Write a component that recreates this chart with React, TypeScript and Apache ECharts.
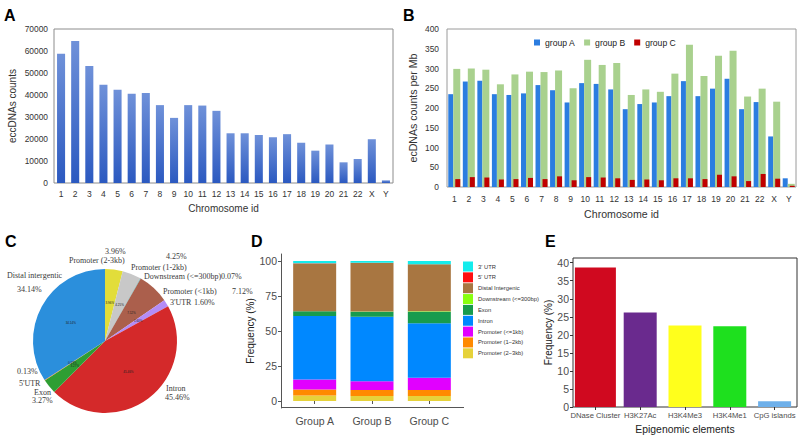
import React, { useEffect, useRef } from 'react';
import * as echarts from 'echarts';

// ---------- Data ----------
const chromosomes = ['1','2','3','4','5','6','7','8','9','10','11','12','13','14','15','16','17','18','19','20','21','22','X','Y'];
const eccCounts = [58700, 64500, 53200, 44700, 42400, 40600, 40900, 35400, 29600, 35400, 35200, 32800, 22600, 22600, 21800, 20800, 22200, 18300, 14700, 17500, 9400, 10900, 19900, 1200];

const groupAPerMb = [235, 267, 269, 235, 233, 237, 258, 245, 214, 263, 261, 247, 197, 210, 214, 230, 268, 230, 249, 274, 197, 215, 128, 22];
const groupBPerMb = [299, 300, 297, 260, 285, 292, 291, 295, 250, 322, 309, 314, 233, 247, 241, 287, 360, 281, 332, 345, 229, 249, 216, 8];
const groupCPerMb = [20, 25, 24, 19, 20, 23, 20, 27, 17, 25, 24, 22, 18, 19, 17, 22, 22, 20, 31, 27, 15, 33, 21, 3];
const groupNames = ['group A', 'group B', 'group C'];

const pieNames = ['Promoter (2-3kb)', 'Promoter (1-2kb)', 'Downstream (<=300bp)', 'Promoter (<1kb)', "3'UTR", 'Intron', 'Exon', "5'UTR", 'Distal intergentic'];
const piePercents = [3.96, 4.25, 0.07, 7.12, 1.60, 45.46, 3.27, 0.13, 34.14];

const dGroups = ['Group A', 'Group B', 'Group C'];
// stacking order bottom -> top
const dFeatures = ['Promoter (2\u22123kb)', 'Promoter (1\u22122kb)', 'Promoter (<=1kb)', 'Intron', 'Exon', 'Downstream (<=300bp)', 'Distal Intergenic', "5' UTR", "3' UTR"];
const dValues = [
  [3.96, 3.6, 3.6],
  [4.25, 4.3, 4.3],
  [7.12, 6.2, 8.7],
  [45.46, 46.1, 38.9],
  [3.27, 3.6, 8.3],
  [0.07, 0.08, 0.3],
  [34.14, 34.8, 33.5],
  [0.13, 0.12, 0.15],
  [1.60, 1.2, 2.25],
];
const dTicks = [0, 25, 50, 75, 100];

const eElements = ['DNase Cluster', 'H3K27Ac', 'H3K4Me3', 'H3K4Me1', 'CpG islands'];
const eFreq = [38.7, 26.2, 22.6, 22.4, 1.6];
const eTicks = [0, 5, 10, 15, 20, 25, 30, 35, 40];

// ---------- Styles ----------
const SANS = "'Liberation Sans', Arial, sans-serif";
const SERIF = "'Liberation Serif', 'Times New Roman', serif";
const groupColors = ['#2b7de0', '#a9d18e', '#c00000'];
const pieColors = ['#e2dd3a', '#c8c8c8', '#1fb5b5', '#ab5f4c', '#b48cf6', '#d4292a', '#2e9e33', '#ff7f0e', '#2b8fdc'];
const dColors = ['#e6d23a', '#ff8a00', '#e100ff', '#0088ff', '#179b4e', '#88ff10', '#a87641', '#ff1010', '#14ecec'];
const eColors = ['#d0091f', '#6a2a8e', '#ffff1c', '#1ee01e', '#6eb0ea'];

// pie label layout: [nameX, nameY, pctX, pctY]
const pieLabelLayout = [
  [69, 260, 105, 251],
  [131, 267, 166, 256],
  [144, 276, 221, 276],
  [163, 291, 232, 291],
  [170, 302, 194, 302],
  [166, 388, 165, 397],
  [34, 392, 32, 400],
  [19, 383, 17, 371],
  [7, 275, 17, 289],
];

export default function App() {
  const ref = useRef<HTMLDivElement>(null);
  useEffect(() => {
    if (!ref.current) return;
    const chart = echarts.init(ref.current, null, { renderer: 'svg' });

    const panelLetters = [
      { t: 'A', x: 4, y: 15.5 },
      { t: 'B', x: 403, y: 15.5 },
      { t: 'C', x: 5, y: 241.5 },
      { t: 'D', x: 251, y: 241.5 },
      { t: 'E', x: 545, y: 241.5 },
    ].map((p) => ({
      type: 'text', x: p.x, y: p.y,
      style: { text: p.t, font: `bold 16px ${SANS}`, fill: '#000', verticalAlign: 'middle' },
    }));

    const pieTexts: any[] = [];
    pieNames.forEach((n, i) => {
      const [nx, ny, px, py] = pieLabelLayout[i];
      pieTexts.push({ type: 'text', x: nx, y: ny, style: { text: n, font: `8px ${SERIF}`, fill: '#3a3a3a', verticalAlign: 'middle' } });
      pieTexts.push({ type: 'text', x: px, y: py, style: { text: piePercents[i].toFixed(2) + '%', font: `8px ${SERIF}`, fill: '#3a3a3a', verticalAlign: 'middle' } });
    });

    // x axis line of panel D spans the full ggplot panel (with expansion)
    const dAxisLine = {
      type: 'line', shape: { x1: 281, y1: 407.5, x2: 464, y2: 407.5 },
      style: { stroke: '#555', lineWidth: 1 },
    };

    const gradA = new echarts.graphic.LinearGradient(0, 0, 0, 1, [
      { offset: 0, color: '#6f91d9' },
      { offset: 1, color: '#2b59c0' },
    ]);

    const dSeries = dFeatures.map((f, i) => ({
      name: f,
      type: 'bar',
      stack: 'd',
      xAxisIndex: 3,
      yAxisIndex: 2,
      barWidth: 43,
      itemStyle: { color: dColors[i] },
      data: dValues[i],
    }));

    const option: any = {
      animation: false,
      textStyle: { fontFamily: SANS },
      grid: [
        { left: 54, top: 29, width: 339, height: 154, show: true, borderColor: '#8c8c8c', borderWidth: 1 },
        { left: 447, top: 29, width: 349, height: 158, show: true, borderColor: '#9a9a9a', borderWidth: 1 },
        { left: 286, top: 254, width: 172, height: 154 },
        { left: 573, top: 258, width: 224, height: 149, show: true, borderColor: '#333', borderWidth: 1 },
      ],
      legend: [
        {
          data: groupNames, left: 529, top: 33, itemWidth: 6, itemHeight: 6, itemGap: 9, icon: 'rect',
          textStyle: { fontSize: 8.6, color: '#222', fontFamily: SANS },
        },
        {
          data: dFeatures.slice().reverse(), orient: 'vertical', left: 458, top: 256.5,
          itemWidth: 10, itemHeight: 10, itemGap: 0.85, icon: 'rect',
          textStyle: { fontSize: 5.8, color: '#333', fontFamily: SANS },
        },
      ],
      xAxis: [
        {
          gridIndex: 0, type: 'category', data: chromosomes,
          axisLine: { show: false }, axisTick: { show: false },
          axisLabel: { fontSize: 8.5, color: '#333', margin: 6, interval: 0 },
          name: 'Chromosome id', nameLocation: 'middle', nameGap: 20,
          nameTextStyle: { fontSize: 10, color: '#333' },
        },
        {
          gridIndex: 1, type: 'category', data: chromosomes,
          axisLine: { show: false }, axisTick: { show: false },
          axisLabel: { fontSize: 8.5, color: '#333', margin: 7, interval: 0 },
          name: 'Chromosome id', nameLocation: 'middle', nameGap: 21,
          nameTextStyle: { fontSize: 10.6, color: '#333' },
        },
        { gridIndex: 1, type: 'category', data: chromosomes, show: false },
        {
          gridIndex: 2, type: 'category', data: dGroups,
          axisLine: { show: false },
          axisTick: { show: true, length: 3, alignWithLabel: true, lineStyle: { color: '#555' } },
          axisLabel: { fontSize: 10.5, color: '#4d4d4d', margin: 7, interval: 0 },
        },
        {
          gridIndex: 3, type: 'category', data: eElements,
          axisLine: { show: false },
          axisTick: { show: true, alignWithLabel: true, length: 3, lineStyle: { color: '#333' } },
          axisLabel: { fontSize: 7.7, color: '#4d4d4d', margin: 4, interval: 0 },
          name: 'Epigenomic elements', nameLocation: 'middle', nameGap: 17,
          nameTextStyle: { fontSize: 10.4, color: '#222' },
        },
        { gridIndex: 3, type: 'category', data: eElements, show: false },
      ],
      yAxis: [
        {
          gridIndex: 0, type: 'value', min: 0, max: 70000, interval: 10000,
          splitLine: { show: false }, axisLine: { show: false }, axisTick: { show: false },
          axisLabel: { fontSize: 8.4, color: '#333', margin: 6, formatter: (v: number) => String(v) },
          name: 'eccDNAs counts', nameLocation: 'middle', nameGap: 37,
          nameTextStyle: { fontSize: 10, color: '#333' },
        },
        {
          gridIndex: 1, type: 'value', min: 0, max: 400, interval: 50,
          splitLine: { show: false }, axisLine: { show: false }, axisTick: { show: false },
          axisLabel: { fontSize: 8.4, color: '#333', margin: 8 },
          name: 'ecDNAs counts per Mb', nameLocation: 'middle', nameGap: 29,
          nameTextStyle: { fontSize: 10.6, color: '#333' },
        },
        {
          gridIndex: 2, type: 'value', min: -5, max: 105, offset: 5,
          splitLine: { show: false },
          axisLine: { show: true, lineStyle: { color: '#555', width: 1 } },
          axisTick: { show: true, length: 3, customValues: dTicks, lineStyle: { color: '#555' } },
          axisLabel: { customValues: dTicks, fontSize: 10.5, color: '#4d4d4d', margin: 4 },
          name: 'Frequency (%)', nameLocation: 'middle', nameGap: 21,
          nameTextStyle: { fontSize: 10, color: '#222' },
        },
        {
          gridIndex: 3, type: 'value', min: 0, max: 41.3,
          splitLine: { show: false }, axisLine: { show: false },
          axisTick: { show: true, length: 3, customValues: eTicks, lineStyle: { color: '#333' } },
          axisLabel: { customValues: eTicks, fontSize: 10.5, color: '#4d4d4d', margin: 4 },
          name: 'Frequency (%)', nameLocation: 'middle', nameGap: 18,
          nameTextStyle: { fontSize: 10, color: '#222' },
        },
      ],
      series: [
        {
          name: 'eccDNA counts', type: 'bar', xAxisIndex: 0, yAxisIndex: 0, barWidth: '57%',
          itemStyle: { color: gradA }, data: eccCounts,
        },
        {
          name: groupNames[0], type: 'bar', xAxisIndex: 1, yAxisIndex: 1, barWidth: 5, barGap: 0,
          itemStyle: { color: groupColors[0] }, data: groupAPerMb,
        },
        {
          name: groupNames[1], type: 'bar', xAxisIndex: 1, yAxisIndex: 1, barWidth: 7, barGap: 0,
          itemStyle: { color: groupColors[1] }, data: groupBPerMb,
        },
        {
          name: '_pad', type: 'bar', xAxisIndex: 2, yAxisIndex: 1, barWidth: 5, barGap: '40%',
          data: chromosomes.map(() => '-'),
        },
        {
          name: groupNames[2], type: 'bar', xAxisIndex: 2, yAxisIndex: 1, barWidth: 5, barGap: '40%',
          itemStyle: { color: groupColors[2] }, data: groupCPerMb,
        },
        {
          name: 'Genomic distribution', type: 'pie', center: [105, 341], radius: 72,
          startAngle: 90, clockwise: true, avoidLabelOverlap: false,
          label: {
            show: true, position: 'inside', fontSize: 3, color: '#222',
            formatter: (p: any) => Number(p.value).toFixed(2) + '%',
          },
          labelLine: { show: false },
          emphasis: { disabled: true },
          data: pieNames.map((n, i) => ({ name: n, value: piePercents[i], itemStyle: { color: pieColors[i] } })),
        },
        ...dSeries,
        {
          name: 'Epigenomic', type: 'bar', xAxisIndex: 4, yAxisIndex: 3, barWidth: 33,
          data: eFreq.map((v, i) => (i === 0 ? '-' : { value: v, itemStyle: { color: eColors[i] } })),
        },
        {
          name: 'EpigenomicWide', type: 'bar', xAxisIndex: 5, yAxisIndex: 3, barWidth: 41,
          data: eFreq.map((v, i) => (i === 0 ? { value: v, itemStyle: { color: eColors[i] } } : '-')),
        },
      ],
      graphic: [...panelLetters, ...pieTexts, dAxisLine],
    };

    chart.setOption(option);
    return () => chart.dispose();
  }, []);

  return <div ref={ref} style={{ position: 'absolute', left: 0, top: 0, width: 800, height: 437, background: '#fff' }} />;
}
